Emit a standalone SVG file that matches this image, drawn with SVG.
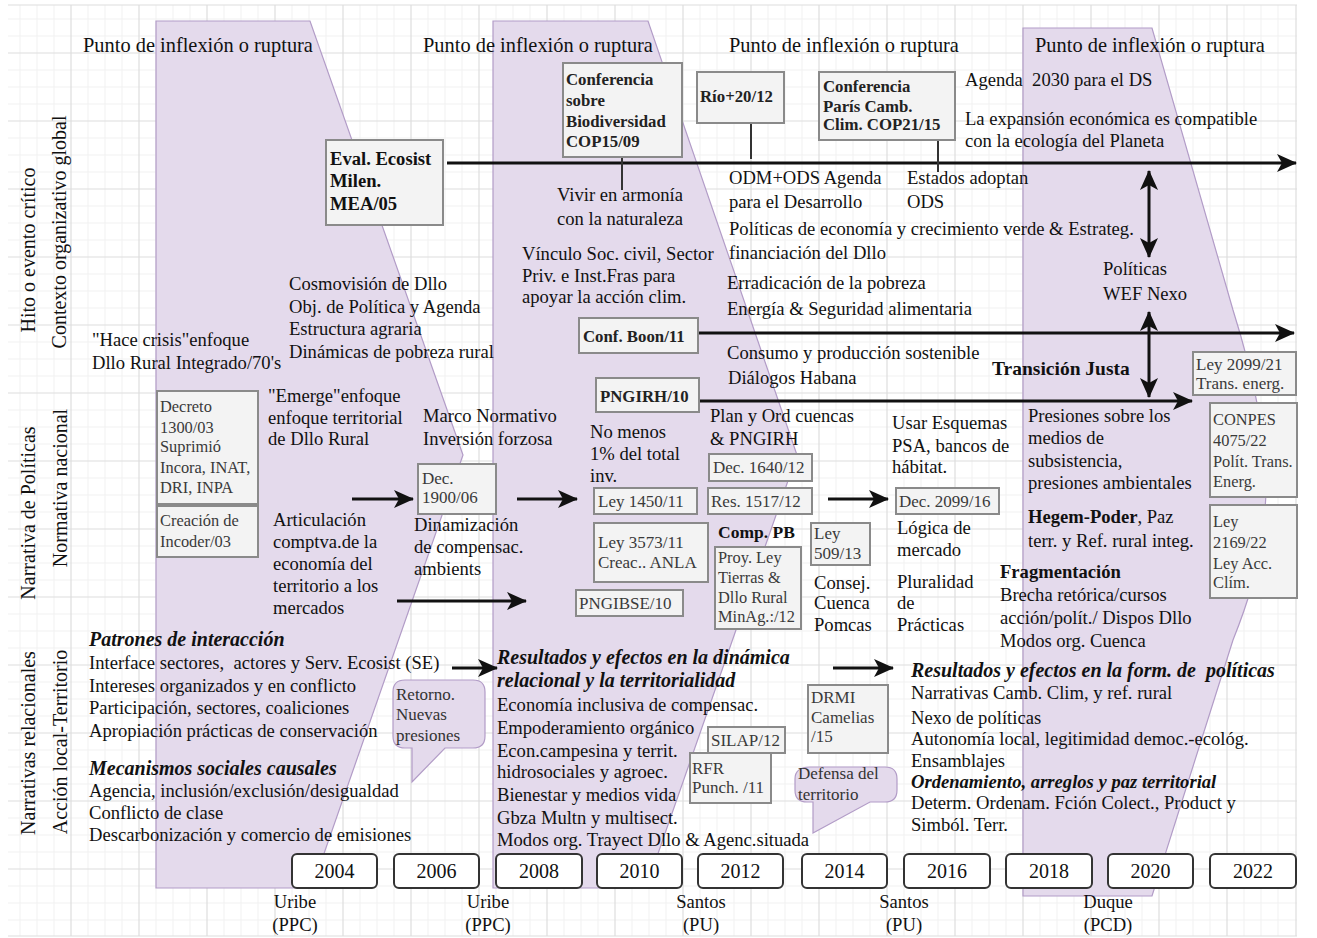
<svg xmlns="http://www.w3.org/2000/svg" width="1317" height="938" viewBox="0 0 1317 938">
<defs>
<style>
text{font-family:"Liberation Serif","Times New Roman",serif;font-size:18.6px;fill:#111}
.ti{font-size:20.4px}
.sd{font-size:20px;text-anchor:middle}
.b{font-weight:bold}
.bi{font-weight:bold;font-style:italic;font-size:20px}
.bx{font-size:17px;fill:#3a3a3a}
.bxs{font-size:16.4px;fill:#3a3a3a}
.bb{font-weight:bold;font-size:16.8px;fill:#222}
.yr{font-size:20px;text-anchor:middle}
.pr{text-anchor:middle}
.co{font-size:17px;fill:#333}
.box{fill:#f3f3f3;stroke:#8a8a8a;stroke-width:2}
.ybox{fill:#fff;stroke:#333;stroke-width:2}
.pur{fill:#e4daec;stroke:#b29cc7;stroke-width:1.2}
.arr{stroke:#111;stroke-width:3;fill:none}
.ln{stroke:#333;stroke-width:2;fill:none}
</style>
<marker id="ah" viewBox="0 0 20 18" refX="19" refY="9" markerWidth="20" markerHeight="18" markerUnits="userSpaceOnUse" orient="auto-start-reverse">
<path d="M0,0 L20,9 L0,18 L5,9 Z" fill="#111"/>
</marker>
</defs>
<rect width="1317" height="938" fill="#fff"/>
<g id="grid" fill="none">
<path stroke="#f1f1f1" stroke-width="1" d="M20,5V936M37,5V936M54,5V936M88,5V936M105,5V936M122,5V936M156,5V936M173,5V936M190,5V936M224,5V936M241,5V936M258,5V936M292,5V936M309,5V936M326,5V936M360,5V936M377,5V936M394,5V936M428,5V936M445,5V936M462,5V936M496,5V936M513,5V936M530,5V936M564,5V936M581,5V936M598,5V936M632,5V936M649,5V936M666,5V936M700,5V936M717,5V936M734,5V936M768,5V936M785,5V936M802,5V936M836,5V936M853,5V936M870,5V936M904,5V936M921,5V936M938,5V936M972,5V936M989,5V936M1006,5V936M1040,5V936M1057,5V936M1074,5V936M1108,5V936M1125,5V936M1142,5V936M1176,5V936M1193,5V936M1210,5V936M1244,5V936M1261,5V936M1278,5V936M8,19H1297M8,36H1297M8,70H1297M8,87H1297M8,104H1297M8,138H1297M8,155H1297M8,172H1297M8,206H1297M8,223H1297M8,240H1297M8,274H1297M8,291H1297M8,308H1297M8,342H1297M8,359H1297M8,376H1297M8,410H1297M8,427H1297M8,444H1297M8,478H1297M8,495H1297M8,512H1297M8,546H1297M8,563H1297M8,580H1297M8,614H1297M8,631H1297M8,648H1297M8,682H1297M8,699H1297M8,716H1297M8,750H1297M8,767H1297M8,784H1297M8,818H1297M8,835H1297M8,852H1297M8,886H1297M8,903H1297M8,920H1297"/>
<path stroke="#dedede" stroke-width="1.2" d="M71,5V936M139,5V936M207,5V936M275,5V936M343,5V936M411,5V936M479,5V936M547,5V936M615,5V936M683,5V936M751,5V936M819,5V936M887,5V936M955,5V936M1023,5V936M1091,5V936M1159,5V936M1227,5V936M1296,5V936M8,5H1297M8,53H1297M8,121H1297M8,189H1297M8,257H1297M8,325H1297M8,393H1297M8,461H1297M8,529H1297M8,597H1297M8,665H1297M8,733H1297M8,801H1297M8,869H1297M8,936H1297"/>
</g>
<g id="turning-points">
<path id="tp1" class="pur" d="M156,21 L310,21 L463,455 L312,888 L156,888 Z"/>
<path id="tp2" class="pur" d="M493,21 L648,21 L797,455 L646,888 L493,888 Z"/>
<path id="tp4" class="pur" d="M1023,28 L1152,28 L1233,310 C1255,380 1270,450 1265,510 C1260,570 1245,610 1233,640 L1152,896 L1023,896 Z"/>
</g>
<g id="side-labels">
<text class="sd" transform="translate(35,250) rotate(-90)">Hito o evento crítico</text>
<text class="sd" transform="translate(66,232) rotate(-90)">Contexto organizativo global</text>
<text class="sd" transform="translate(35,513) rotate(-90)">Narrativa de Políticas</text>
<text class="sd" transform="translate(67,488) rotate(-90)">Normativa nacional</text>
<text class="sd" transform="translate(35,743) rotate(-90)">Narrativas relacionales</text>
<text class="sd" transform="translate(67,742) rotate(-90)">Acción local-Territorio</text>
</g>
<g id="titles">
<text class="ti" x="83" y="52">Punto de inflexión o ruptura</text>
<text class="ti" x="423" y="52">Punto de inflexión o ruptura</text>
<text class="ti" x="729" y="52">Punto de inflexión o ruptura</text>
<text class="ti" x="1035" y="52">Punto de inflexión o ruptura</text>
</g>
<g id="connectors">
<line class="arr" x1="447" y1="163" x2="1296" y2="163" marker-end="url(#ah)"/>
<line class="arr" x1="698" y1="333" x2="1294" y2="333" marker-end="url(#ah)"/>
<line class="arr" x1="699" y1="401" x2="1192" y2="401" marker-end="url(#ah)"/>
<line class="arr" x1="1149" y1="171" x2="1149" y2="257" marker-start="url(#ah)" marker-end="url(#ah)"/>
<line class="arr" x1="1149" y1="312" x2="1149" y2="397" marker-start="url(#ah)" marker-end="url(#ah)"/>
<line class="arr" x1="352" y1="499" x2="413" y2="499" marker-end="url(#ah)"/>
<line class="arr" x1="397" y1="601" x2="526" y2="601" marker-end="url(#ah)"/>
<line class="arr" x1="517" y1="499" x2="577" y2="499" marker-end="url(#ah)"/>
<line class="arr" x1="828" y1="499" x2="888" y2="499" marker-end="url(#ah)"/>
<line class="arr" x1="452" y1="668" x2="497" y2="668" marker-end="url(#ah)"/>
<line class="arr" x1="833" y1="668" x2="893" y2="668" marker-end="url(#ah)"/>
<line class="ln" x1="622" y1="157" x2="622" y2="190"/>
<line class="ln" x1="751" y1="123" x2="751" y2="159"/>
<line class="ln" x1="938" y1="140" x2="938" y2="172"/>
</g>
<g id="n-mea">
<rect class="box" x="326" y="140" width="117" height="85"/>
<text class="b" x="330" y="165">Eval. Ecosist</text>
<text class="b" x="330" y="187">Milen.</text>
<text class="b" x="330" y="210">MEA/05</text>
</g>
<g id="n-cop15">
<rect class="box" x="563" y="63" width="119" height="94"/>
<text class="bb" x="566" y="85">Conferencia</text>
<text class="bb" x="566" y="106">sobre</text>
<text class="bb" x="566" y="127">Biodiversidad</text>
<text class="bb" x="566" y="147">COP15/09</text>
</g>
<g id="n-rio">
<rect class="box" x="697" y="72" width="87" height="51"/>
<text class="bb" x="700" y="102">Río+20/12</text>
</g>
<g id="n-cop21">
<rect class="box" x="819" y="72" width="136" height="68"/>
<text class="bb" x="823" y="92">Conferencia</text>
<text class="bb" x="823" y="112">París Camb.</text>
<text class="bb" x="823" y="130">Clim. COP21/15</text>
</g>
<g id="t-agenda2030">
<text x="965" y="86">Agenda&#160; 2030 para el DS</text>
<text x="965" y="125">La expansión económica es compatible</text>
<text x="965" y="147">con la ecología del Planeta</text>
</g>
<g id="t-odm">
<text x="729" y="184">ODM+ODS Agenda</text>
<text x="729" y="208">para el Desarrollo</text>
<text x="907" y="184">Estados adoptan</text>
<text x="907" y="208">ODS</text>
<text x="729" y="235">Políticas de economía y crecimiento verde &amp; Estrateg.</text>
<text x="729" y="259">financiación del Dllo</text>
<text x="727" y="289">Erradicación de la pobreza</text>
<text x="727" y="315">Energía &amp; Seguridad alimentaria</text>
</g>
<g id="t-vivir">
<text x="557" y="201">Vivir en armonía</text>
<text x="557" y="225">con la naturaleza</text>
<text x="522" y="260">Vínculo Soc. civil, Sector</text>
<text x="522" y="282">Priv. e Inst.Fras para</text>
<text x="522" y="303">apoyar la acción clim.</text>
</g>
<g id="t-wef">
<text x="1103" y="275">Políticas</text>
<text x="1103" y="300">WEF Nexo</text>
</g>
<g id="t-cosmo">
<text x="289" y="290">Cosmovisión de Dllo</text>
<text x="289" y="313">Obj. de Política y Agenda</text>
<text x="289" y="335">Estructura agraria</text>
<text x="289" y="358">Dinámicas de pobreza rural</text>
</g>
<g id="t-crisis">
<text x="92" y="346">"Hace crisis"enfoque</text>
<text x="92" y="369">Dllo Rural Integrado/70's</text>
</g>
<g id="n-boon">
<rect class="box" x="579" y="318" width="119" height="35"/>
<text class="bb" x="583" y="342">Conf. Boon/11</text>
</g>
<g id="t-consumo">
<text x="727" y="359">Consumo y producción sostenible</text>
<text x="728" y="384">Diálogos Habana</text>
</g>
<g id="n-pngirh">
<rect class="box" x="596" y="378" width="103" height="34"/>
<text class="bb" x="600" y="402">PNGIRH/10</text>
</g>
<g id="t-transicion">
<text class="b" x="992" y="375" style="font-size:19.5px">Transición Justa</text>
</g>
<g id="n-ley2099">
<rect class="box" x="1193" y="352" width="103" height="43"/>
<text class="bx" x="1196" y="370">Ley 2099/21</text>
<text class="bx" x="1196" y="389">Trans. energ.</text>
</g>
<g id="n-conpes">
<rect class="box" x="1210" y="403" width="87" height="94"/>
<text class="bxs" x="1213" y="425">CONPES</text>
<text class="bxs" x="1213" y="446">4075/22</text>
<text class="bxs" x="1213" y="467">Polít. Trans.</text>
<text class="bxs" x="1213" y="487">Energ.</text>
</g>
<g id="n-ley2169">
<rect class="box" x="1210" y="505" width="87" height="93"/>
<text class="bxs" x="1213" y="527">Ley</text>
<text class="bxs" x="1213" y="548">2169/22</text>
<text class="bxs" x="1213" y="569">Ley Acc.</text>
<text class="bxs" x="1213" y="588">Clím.</text>
</g>
<g id="t-presiones">
<text x="1028" y="422">Presiones sobre los</text>
<text x="1028" y="444">medios de</text>
<text x="1028" y="467">subsistencia,</text>
<text x="1028" y="489">presiones ambientales</text>
<text x="1028" y="523"><tspan class="b">Hegem-Poder</tspan>, Paz</text>
<text x="1028" y="547">terr. y Ref. rural integ.</text>
<text class="b" x="1000" y="578">Fragmentación</text>
<text x="1000" y="601">Brecha retórica/cursos</text>
<text x="1000" y="624">acción/polít./ Dispos Dllo</text>
<text x="1000" y="647">Modos org. Cuenca</text>
</g>
<g id="n-decreto1300">
<rect class="box" x="157" y="391" width="101" height="113"/>
<text class="bxs" x="160" y="412">Decreto</text>
<text class="bxs" x="160" y="433">1300/03</text>
<text class="bxs" x="160" y="452">Suprimió</text>
<text class="bxs" x="160" y="473">Incora, INAT,</text>
<text class="bxs" x="160" y="493">DRI, INPA</text>
</g>
<g id="n-incoder">
<rect class="box" x="157" y="506" width="101" height="51"/>
<text class="bxs" x="160" y="526">Creación de</text>
<text class="bxs" x="160" y="547">Incoder/03</text>
</g>
<g id="t-emerge">
<text x="268" y="402">"Emerge"enfoque</text>
<text x="268" y="424">enfoque territorial</text>
<text x="268" y="445">de Dllo Rural</text>
</g>
<g id="t-marco">
<text x="423" y="422">Marco Normativo</text>
<text x="423" y="445">Inversión forzosa</text>
</g>
<g id="n-dec1900">
<rect class="box" x="418" y="464" width="78" height="50"/>
<text class="bx" x="422" y="484">Dec.</text>
<text class="bx" x="422" y="503">1900/06</text>
</g>
<g id="t-dinamizacion">
<text x="414" y="531">Dinamización</text>
<text x="414" y="553">de compensac.</text>
<text x="414" y="575">ambients</text>
</g>
<g id="t-articulacion">
<text x="273" y="526">Articulación</text>
<text x="273" y="548">comptva.de la</text>
<text x="273" y="570">economía del</text>
<text x="273" y="592">territorio a los</text>
<text x="273" y="614">mercados</text>
</g>
<g id="t-nomenos">
<text x="590" y="438">No menos</text>
<text x="590" y="460">1% del total</text>
<text x="590" y="482">inv.</text>
</g>
<g id="n-ley1450">
<rect class="box" x="594" y="488" width="103" height="26"/>
<text class="bx" x="598" y="507">Ley 1450/11</text>
</g>
<g id="n-ley3573">
<rect class="box" x="594" y="523" width="114" height="59"/>
<text class="bx" x="598" y="548">Ley 3573/11</text>
<text class="bx" x="598" y="568">Creac.. ANLA</text>
</g>
<g id="n-pngibse">
<rect class="box" x="576" y="590" width="107" height="26"/>
<text class="bx" x="579" y="609">PNGIBSE/10</text>
</g>
<g id="t-plan">
<text x="710" y="422">Plan y Ord cuencas</text>
<text x="710" y="445">&amp; PNGIRH</text>
</g>
<g id="n-dec1640">
<rect class="box" x="709" y="454" width="103" height="27"/>
<text class="bx" x="713" y="473">Dec. 1640/12</text>
</g>
<g id="n-res1517">
<rect class="box" x="708" y="488" width="104" height="26"/>
<text class="bx" x="711" y="507">Res. 1517/12</text>
</g>
<g id="t-comp">
<text class="b" x="718" y="538" style="font-size:17.5px">Comp. PB</text>
</g>
<g id="n-proyley">
<rect class="box" x="715" y="547" width="86" height="82"/>
<text class="bxs" x="718" y="563">Proy. Ley</text>
<text class="bxs" x="718" y="583">Tierras &amp;</text>
<text class="bxs" x="718" y="603">Dllo Rural</text>
<text class="bxs" x="718" y="622">MinAg.:/12</text>
</g>
<g id="n-ley509">
<rect class="box" x="811" y="523" width="59" height="42"/>
<text class="bx" x="814" y="539">Ley</text>
<text class="bx" x="814" y="559">509/13</text>
</g>
<g id="t-consej">
<text x="814" y="589">Consej.</text>
<text x="814" y="609">Cuenca</text>
<text x="814" y="631">Pomcas</text>
</g>
<g id="t-usar">
<text x="892" y="429">Usar Esquemas</text>
<text x="892" y="452">PSA, bancos de</text>
<text x="892" y="473">hábitat.</text>
</g>
<g id="n-dec2099">
<rect class="box" x="896" y="488" width="103" height="26"/>
<text class="bx" x="899" y="507">Dec. 2099/16</text>
</g>
<g id="t-logica">
<text x="897" y="534">Lógica de</text>
<text x="897" y="556">mercado</text>
<text x="897" y="588">Pluralidad</text>
<text x="897" y="609">de</text>
<text x="897" y="631">Prácticas</text>
</g>
<g id="t-patrones">
<text class="bi" x="89" y="646">Patrones de interacción</text>
<text x="89" y="669">Interface sectores,&#160; actores y Serv. Ecosist (SE)</text>
<text x="89" y="692">Intereses organizados y en conflicto</text>
<text x="89" y="714">Participación, sectores, coaliciones</text>
<text x="89" y="737">Apropiación prácticas de conservación</text>
<text class="bi" x="89" y="775">Mecanismos sociales causales</text>
<text x="89" y="797">Agencia, inclusión/exclusión/desigualdad</text>
<text x="89" y="819">Conflicto de clase</text>
<text x="89" y="841">Descarbonización y comercio de emisiones</text>
</g>
<g id="n-retorno">
<path class="pur" d="M405,680 H473 Q485,680 485,692 V736 Q485,748 473,748 H445 L412,782 L412,748 H405 Q393,748 393,736 V692 Q393,680 405,680 Z"/>
<text class="co" x="396" y="700">Retorno.</text>
<text class="co" x="396" y="720">Nuevas</text>
<text class="co" x="396" y="741">presiones</text>
</g>
<g id="t-resultados1">
<text class="bi" x="497" y="664">Resultados y efectos en la dinámica</text>
<text class="bi" x="497" y="687">relacional y la territorialidad</text>
<text x="497" y="711">Economía inclusiva de compensac.</text>
<text x="497" y="734">Empoderamiento orgánico</text>
<text x="497" y="757">Econ.campesina y territ.</text>
<text x="497" y="778">hidrosociales y agroec.</text>
<text x="497" y="801">Bienestar y medios vida</text>
<text x="497" y="824">Gbza Multn y multisect.</text>
<text x="497" y="846">Modos org. Trayect Dllo &amp; Agenc.situada</text>
</g>
<g id="n-silap">
<rect class="box" x="708" y="727" width="77" height="26"/>
<text class="bx" x="711" y="746">SILAP/12</text>
</g>
<g id="n-rfr">
<rect class="box" x="690" y="753" width="81" height="50"/>
<text class="bx" x="692" y="774">RFR</text>
<text class="bx" x="692" y="793">Punch. /11</text>
</g>
<g id="n-drmi">
<rect class="box" x="808" y="685" width="80" height="68"/>
<text class="bx" x="811" y="703">DRMI</text>
<text class="bx" x="811" y="723">Camelias</text>
<text class="bx" x="811" y="742">/15</text>
</g>
<g id="n-defensa">
<path class="pur" d="M810,767 H885 Q897,767 897,779 V790 Q897,802 885,802 H870 L813,833 L813,802 H807 Q795,802 795,790 V779 Q795,767 810,767 Z"/>
<text class="co" x="798" y="779">Defensa del</text>
<text class="co" x="798" y="800">territorio</text>
</g>
<g id="t-resultados2">
<text class="bi" x="911" y="677">Resultados y efectos en la form. de&#160; políticas</text>
<text x="911" y="699">Narrativas Camb. Clim, y ref. rural</text>
<text x="911" y="724">Nexo de políticas</text>
<text x="911" y="745">Autonomía local, legitimidad democ.-ecológ.</text>
<text x="911" y="767">Ensamblajes</text>
<text class="bi" x="911" y="788" style="font-size:18.6px">Ordenamiento, arreglos y paz territorial</text>
<text x="911" y="809">Determ. Ordenam. Fción Colect., Product y</text>
<text x="911" y="831">Simból. Terr.</text>
</g>
<g id="years">
<g id="y2004"><rect class="ybox" x="292" y="854" width="85" height="34" rx="5"/><text class="yr" x="334.5" y="878">2004</text></g>
<g id="y2006"><rect class="ybox" x="394" y="854" width="85" height="34" rx="5"/><text class="yr" x="436.5" y="878">2006</text></g>
<g id="y2008"><rect class="ybox" x="496" y="854" width="86" height="34" rx="5"/><text class="yr" x="539" y="878">2008</text></g>
<g id="y2010"><rect class="ybox" x="597" y="854" width="85" height="34" rx="5"/><text class="yr" x="639.5" y="878">2010</text></g>
<g id="y2012"><rect class="ybox" x="698" y="854" width="85" height="34" rx="5"/><text class="yr" x="740.5" y="878">2012</text></g>
<g id="y2014"><rect class="ybox" x="802" y="854" width="85" height="34" rx="5"/><text class="yr" x="844.5" y="878">2014</text></g>
<g id="y2016"><rect class="ybox" x="904" y="854" width="86" height="34" rx="5"/><text class="yr" x="947" y="878">2016</text></g>
<g id="y2018"><rect class="ybox" x="1006" y="854" width="86" height="34" rx="5"/><text class="yr" x="1049" y="878">2018</text></g>
<g id="y2020"><rect class="ybox" x="1108" y="854" width="85" height="34" rx="5"/><text class="yr" x="1150.5" y="878">2020</text></g>
<g id="y2022"><rect class="ybox" x="1210" y="854" width="86" height="34" rx="5"/><text class="yr" x="1253" y="878">2022</text></g>
</g>
<g id="presidents">
<text class="pr" x="295" y="908">Uribe</text><text class="pr" x="295" y="931">(PPC)</text>
<text class="pr" x="488" y="908">Uribe</text><text class="pr" x="488" y="931">(PPC)</text>
<text class="pr" x="701" y="908">Santos</text><text class="pr" x="701" y="931">(PU)</text>
<text class="pr" x="904" y="908">Santos</text><text class="pr" x="904" y="931">(PU)</text>
<text class="pr" x="1108" y="908">Duque</text><text class="pr" x="1108" y="931">(PCD)</text>
</g>
</svg>
